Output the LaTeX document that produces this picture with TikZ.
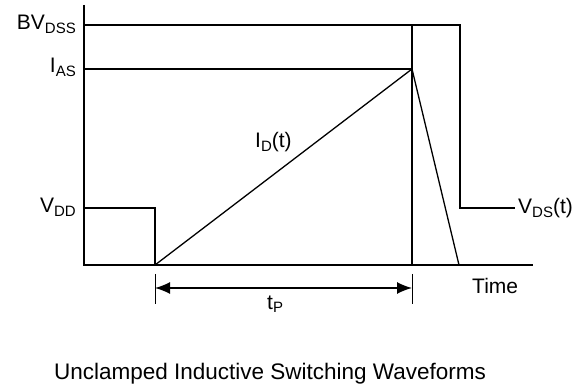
\documentclass[tikz,border=0pt]{standalone}
\usepackage{fontspec}
\setmainfont{Liberation Sans}
\usetikzlibrary{arrows.meta}
\newcommand{\lowsub}[1]{\raisebox{-0.3ex}{\fontsize{15}{15}\selectfont #1}}

\begin{document}
\begin{tikzpicture}[x=1pt, y=-1pt, font=\fontsize{21}{24}\selectfont,
    axis/.style={line width=2pt},
    wave/.style={line width=2.8pt},
    thinwave/.style={line width=1.3pt},
    tick/.style={line width=1pt},
    lbl/.style={inner sep=0pt}]
    \useasboundingbox (0,0) rectangle (586,387);

    % points of the waveforms
    \coordinate (top) at (84,5);
    \coordinate (o) at (84,265);
    \coordinate (tend) at (533,265);
    \coordinate (start) at (155,265);
    \coordinate (peak) at (412,69);
    \coordinate (off) at (459,265);

    % axes
    \draw[axis] (top) -- (o) -- (tend);

    % drain voltage
    \draw[wave] (84,208) -- (155,208) -- (start);
    \draw[wave] (84,25) -- (460,25) -- (460,208) -- (515,208);
    \draw[wave] (84,69) -- (peak);
    \draw[wave] (412,25) -- (412,265);

    % drain current
    \draw[thinwave] (start) -- (peak) -- (off);

    % pulse width
    \draw[tick] (155,274) -- (155,304);
    \draw[tick] (412,274) -- (412,304);
    \draw[line width=1.4pt, {Latex[length=15pt,width=12pt]}-{Latex[length=15pt,width=12pt]}]
        (155,288) -- (412,288);

    \node[lbl, anchor=base east] (bvdss) at (76,30) {BV\lowsub{DSS}};
    \node[lbl, anchor=base east] (ias) at (76,73) {I\lowsub{AS}};
    \node[lbl, anchor=base east] (vdd) at (76,213) {V\lowsub{DD}};
    \node[lbl, anchor=base west] (idt) at (255,148) {I\lowsub{D}(t)};
    \node[lbl, anchor=base west] (tp) at (267,309) {t\lowsub{P}};
    \node[lbl, anchor=base west] (time) at (472,293) {Time};
    \node[lbl, anchor=base west] (vdst) at (518,214) {V\lowsub{DS}(t)};
    \node[lbl, anchor=base, font=\fontsize{22.5}{25}\selectfont] (caption) at (270,379)
        {Unclamped Inductive Switching Waveforms};
\end{tikzpicture}
\end{document}
